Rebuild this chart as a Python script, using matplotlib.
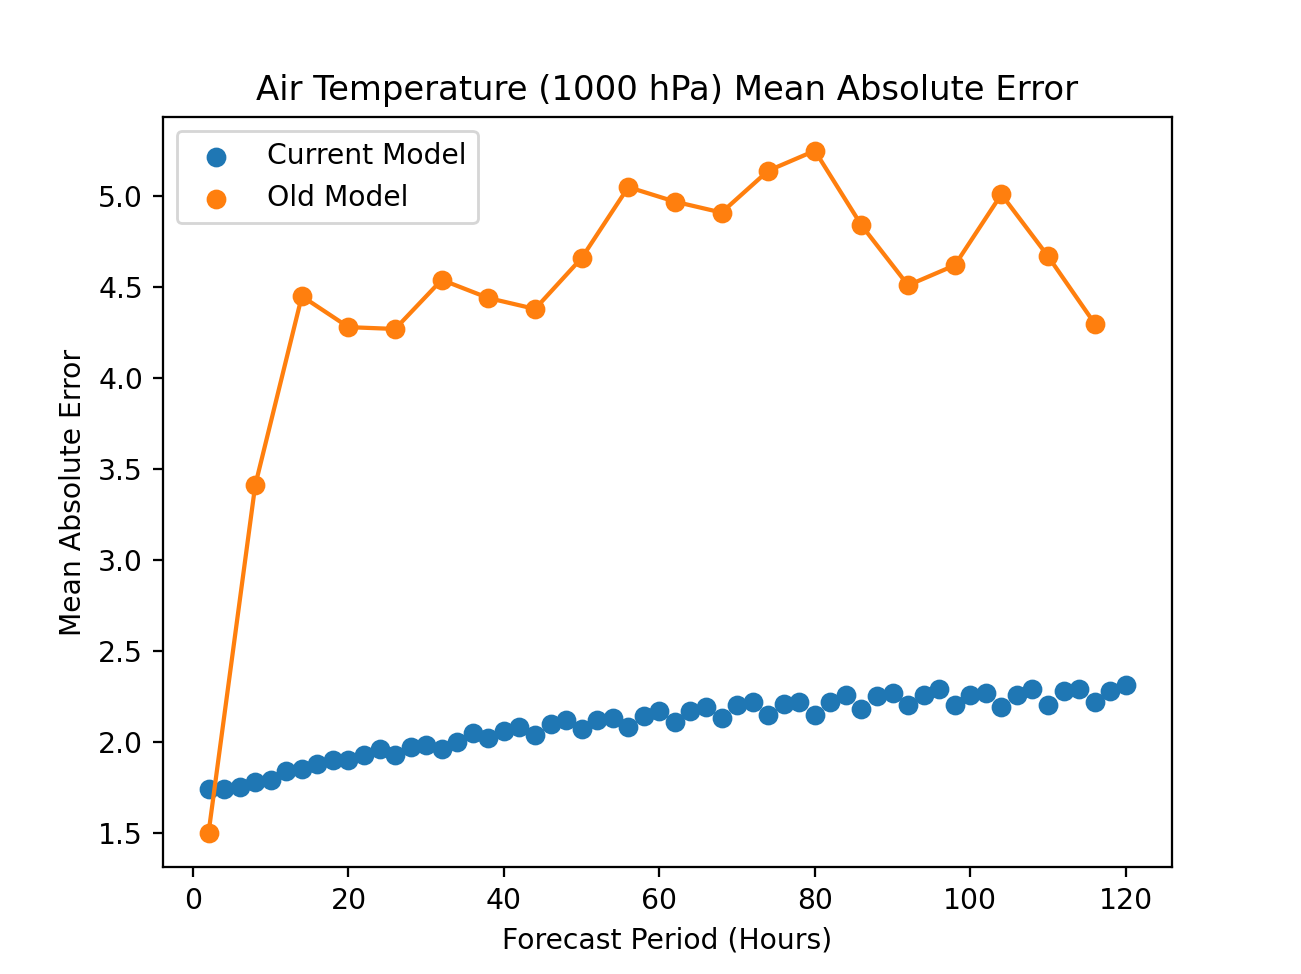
import matplotlib
matplotlib.use("Agg")
import matplotlib.pyplot as plt
import numpy as np

hours_current = np.arange(2, 121, 2)
mae_current = [
    1.74, 1.74, 1.75, 1.78, 1.79, 1.84, 1.85, 1.88, 1.90, 1.90,
    1.93, 1.96, 1.93, 1.97, 1.98, 1.96, 2.00, 2.05, 2.02, 2.06,
    2.08, 2.04, 2.10, 2.12, 2.07, 2.12, 2.13, 2.08, 2.14, 2.17,
    2.11, 2.17, 2.19, 2.13, 2.20, 2.22, 2.15, 2.21, 2.22, 2.15,
    2.22, 2.26, 2.18, 2.25, 2.27, 2.20, 2.26, 2.29, 2.20, 2.26,
    2.27, 2.19, 2.26, 2.29, 2.20, 2.28, 2.29, 2.22, 2.28, 2.31,
]
hours_old = np.arange(2, 117, 6)
mae_old = [
    1.50, 3.41, 4.45, 4.28, 4.27, 4.54, 4.44, 4.38, 4.66, 5.05,
    4.97, 4.91, 5.14, 5.25, 4.84, 4.51, 4.62, 5.01, 4.67, 4.30,
]

fig, ax = plt.subplots(figsize=(6.4, 4.79), dpi=203.4)
ax.scatter(hours_current, mae_current, color="#1f77b4", label="Current Model")
ax.plot(hours_old, mae_old, color="#ff7f0e")
ax.scatter(hours_old, mae_old, color="#ff7f0e", label="Old Model")
ax.set_title("Air Temperature (1000 hPa) Mean Absolute Error")
ax.set_xlabel("Forecast Period (Hours)")
ax.set_ylabel("Mean Absolute Error")
ax.legend(loc="upper left")
fig.savefig("out.png")
